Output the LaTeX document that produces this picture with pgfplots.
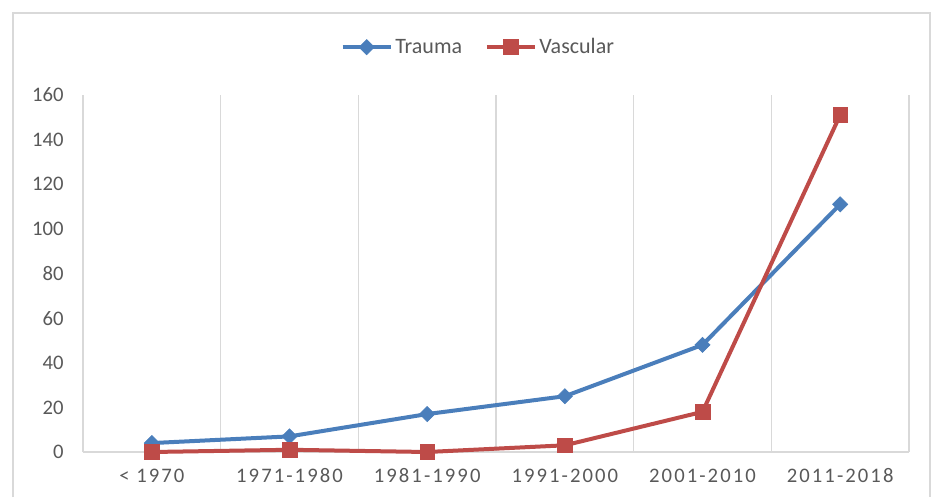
\documentclass[border=0pt]{standalone}
\usepackage{fontspec}
\setmainfont{Carlito}
\newfontfamily\spaced[LetterSpace=10]{Carlito}
\usepackage{pgfplots}
\pgfplotsset{compat=1.18}
\definecolor{cblue}{HTML}{4A7EBB}
\definecolor{cred}{HTML}{BE4B48}
\definecolor{cgrid}{HTML}{D9D9D9}
\definecolor{ctext}{HTML}{595959}
\begin{document}
\begin{tikzpicture}[x=1pt,y=1pt]
\useasboundingbox (0,0) rectangle (700.5,372.75);
\draw[cgrid, line width=1.5pt] (9.75,0) -- (9.75,363) -- (697.5,363) -- (697.5,0);
\begin{axis}[
  at={(62.25pt,33.75pt)}, anchor=south west,
  scale only axis, width=619.5pt, height=267.75pt,
  xmin=-0.5, xmax=5.5, ymin=0, ymax=160,
  xtick={0,...,5},
  xticklabels={{< 1970},{1971-1980},{1981-1990},{1991-2000},{2001-2010},{2011-2018}},
  ytick={0,20,...,160},
  /pgf/number format/assume math mode=true,
  minor xtick={-0.5,0.5,...,5.5},
  minor x grid style={cgrid, line width=1.2pt},
  xminorgrids=true,
  major tick length=0pt, minor tick length=0pt,
  axis x line*=bottom, axis y line*=left,
  axis line style={cgrid, line width=1.2pt, -},
  tick label style={color=ctext, font=\fontsize{15.5}{18}\selectfont},
  xticklabel style={font=\fontsize{15.5}{18}\selectfont\spaced, yshift=-9pt},
  yticklabel style={xshift=-11pt},
  legend style={draw=none, fill=none, at={(0.479,1.134)}, anchor=center,
    legend columns=2, font=\fontsize{16.5}{18}\selectfont, text=ctext,
    /tikz/every even column/.append style={column sep=15pt}},
  legend image code/.code={
    \draw[#1, mark repeat=2, mark phase=2] plot coordinates {(0pt,0pt) (18pt,0pt) (36pt,0pt)};
  },
  clip=false,
]
\addplot[cblue, line width=3pt, mark=square*, mark size=4pt, mark options={rotate=45, solid, line width=0.5pt}]
  coordinates {(0,4) (1,7) (2,17) (3,25) (4,48) (5,111)};
\addlegendentry{Trauma}
\addplot[cred, line width=3pt, mark=square*, mark size=5.5pt, mark options={solid, line width=0.5pt}]
  coordinates {(0,0) (1,1) (2,0) (3,3) (4,18) (5,151)};
\addlegendentry{Vascular}
\end{axis}
\end{tikzpicture}
\end{document}
